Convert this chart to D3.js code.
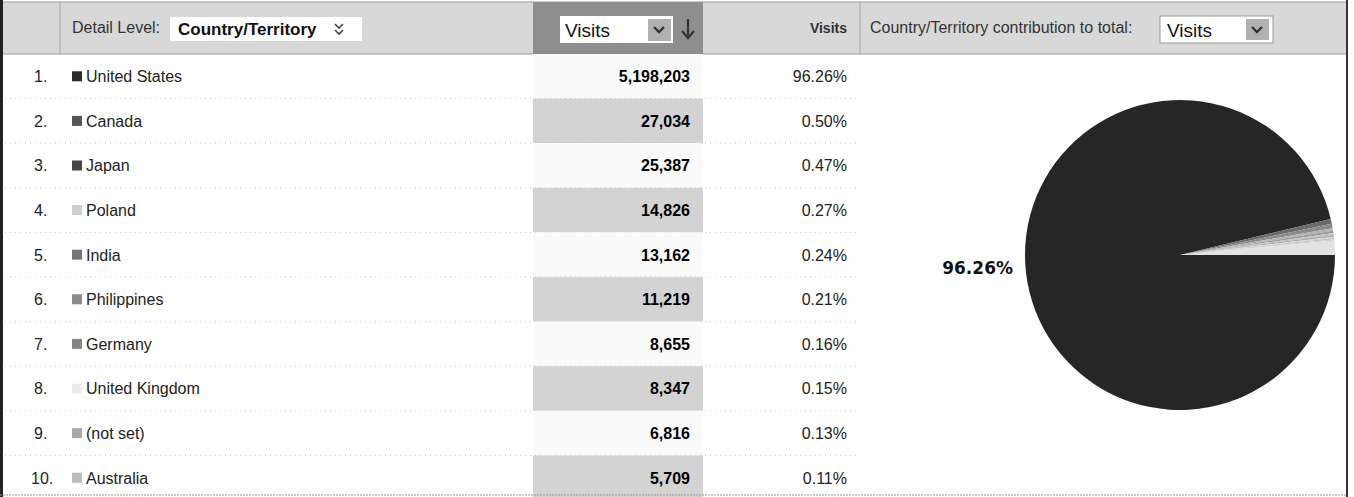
<!DOCTYPE html>
<html>
<head>
<meta charset="utf-8">
<script src="https://cdn.jsdelivr.net/npm/d3@7"></script>
<style>
  body { margin: 0; background: #fff; }
  svg { display: block; font-family: "Liberation Sans", Arial, sans-serif; }
</style>
</head>
<body>
<div id="chart"></div>
<script>
// table data
var countries = ["United States", "Canada", "Japan", "Poland", "India", "Philippines", "Germany", "United Kingdom", "(not set)", "Australia"];
var visits = [5198203, 27034, 25387, 14826, 13162, 11219, 8655, 8347, 6816, 5709];
var shares = [96.26, 0.50, 0.47, 0.27, 0.24, 0.21, 0.16, 0.15, 0.13, 0.11];
// pie also has the remaining countries as one slice
var otherShare = 1.50;
var swatches = ["#2b2b2b", "#555", "#464646", "#cfcfcf", "#767676", "#8c8c8c", "#858585", "#ececec", "#a8a8a8", "#bdbdbd"];

var w = 1354, h = 497;
var headH = 54, rowH = 44.6;
var svg = d3.select("#chart").append("svg").attr("width", w).attr("height", h);

/* header strip */
svg.append("rect").attr("x", 0).attr("y", 2).attr("width", 1347).attr("height", headH - 2)
    .attr("fill", "#d8d8d8").attr("stroke", "#9a9a9a");
svg.append("rect").attr("x", 533).attr("y", 2).attr("width", 170).attr("height", headH - 2)
    .attr("fill", "#8e8e8e");
[60, 860].forEach(function(x) {
    svg.append("line").attr("x1", x).attr("x2", x).attr("y1", 2).attr("y2", headH)
        .attr("stroke", "#a5a5a5");
});

// detail level dropdown
svg.append("text").attr("x", 72).attr("y", 33).attr("font-size", 16).attr("fill", "#333").text("Detail Level:");
svg.append("rect").attr("x", 170).attr("y", 17).attr("width", 192).attr("height", 24).attr("fill", "#fff");
svg.append("text").attr("x", 178).attr("y", 35).attr("font-size", 17).attr("font-weight", "bold").attr("fill", "#111").text("Country/Territory");
svg.append("path").attr("d", "M335,24 l4,4 l4,-4 M335,30 l4,4 l4,-4")
    .attr("fill", "none").attr("stroke", "#444").attr("stroke-width", 1.6);

// sorted metric dropdown
svg.append("rect").attr("x", 560).attr("y", 16).attr("width", 113).attr("height", 27).attr("fill", "#fff");
svg.append("rect").attr("x", 648).attr("y", 19).attr("width", 23).attr("height", 22).attr("fill", "#b0b0b0");
svg.append("path").attr("d", "M654,27 l5,5 l5,-5").attr("fill", "none").attr("stroke", "#333").attr("stroke-width", 2.4);
svg.append("text").attr("x", 565).attr("y", 37).attr("font-size", 19).attr("fill", "#111").text("Visits");
svg.append("path").attr("d", "M688,19 v18 M682,31 l6,7 l6,-7").attr("fill", "none").attr("stroke", "#333").attr("stroke-width", 2.2);

svg.append("text").attr("x", 847).attr("y", 33).attr("text-anchor", "end").attr("font-size", 14)
    .attr("font-weight", "bold").attr("fill", "#333").text("Visits");

// pie metric dropdown
svg.append("text").attr("x", 870).attr("y", 33).attr("font-size", 16).attr("fill", "#333").text("Country/Territory contribution to total:");
svg.append("rect").attr("x", 1160).attr("y", 16).attr("width", 113).attr("height", 27).attr("fill", "#fff").attr("stroke", "#999");
svg.append("rect").attr("x", 1246).attr("y", 19).attr("width", 23).attr("height", 21).attr("fill", "#b0b0b0");
svg.append("path").attr("d", "M1252,27 l5,5 l5,-5").attr("fill", "none").attr("stroke", "#333").attr("stroke-width", 2.4);
svg.append("text").attr("x", 1167).attr("y", 37).attr("font-size", 19).attr("fill", "#111").text("Visits");

/* rows */
var y = d3.scaleBand().domain(countries).range([headH, headH + rowH * countries.length]);
var color = d3.scaleOrdinal().domain(countries).range(swatches);
var fmt = d3.format(",");

var rows = svg.selectAll("g.row")
    .data(countries)
    .enter()
    .append("g")
    .attr("class", "row")
    .attr("transform", function(d) { return "translate(0," + y(d) + ")"; });

// shaded sort column on even rows
rows.append("rect")
    .attr("x", 533).attr("width", 170).attr("height", y.bandwidth())
    .attr("fill", function(d, i) { return i % 2 ? "#d3d3d3" : "#fafafa"; });
rows.append("line")
    .attr("x1", 0).attr("x2", 860).attr("y1", y.bandwidth()).attr("y2", y.bandwidth())
    .attr("stroke", "#c4c4c4").attr("stroke-dasharray", "1,4");

var mid = y.bandwidth() / 2 + 6;
rows.append("text")
    .attr("x", function(d, i) { return i == 9 ? 31 : 34; }).attr("y", mid)
    .attr("font-size", 16).attr("fill", "#222")
    .text(function(d, i) { return (i + 1) + "."; });
rows.append("rect")
    .attr("x", 72).attr("y", y.bandwidth() / 2 - 5).attr("width", 10).attr("height", 10)
    .attr("fill", function(d) { return color(d); });
rows.append("text")
    .attr("x", 86).attr("y", mid).attr("font-size", 16).attr("fill", "#222")
    .text(function(d) { return d; });
rows.append("text")
    .attr("x", 690).attr("y", mid).attr("text-anchor", "end")
    .attr("font-size", 16).attr("font-weight", "bold").attr("fill", "#000")
    .text(function(d, i) { return fmt(visits[i]); });
rows.append("text")
    .attr("x", 847).attr("y", mid).attr("text-anchor", "end")
    .attr("font-size", 16).attr("fill", "#222")
    .text(function(d, i) { return shares[i].toFixed(2) + "%"; });

/* borders */
svg.append("line").attr("x1", 1.5).attr("x2", 1.5).attr("y1", 0).attr("y2", h).attr("stroke", "#222").attr("stroke-width", 3);
svg.append("line").attr("x1", 1347).attr("x2", 1347).attr("y1", 0).attr("y2", h).attr("stroke", "#333").attr("stroke-width", 2);
svg.append("line").attr("x1", 0).attr("x2", 1347).attr("y1", 495).attr("y2", 495).attr("stroke", "#999").attr("stroke-dasharray", "2,1");

/* pie */
var pieData = shares.concat([otherShare]);
var pieColors = ["#262626", "#6a6a6a", "#8a8a8a", "#b4b4b4", "#9a9a9a", "#c2c2c2", "#a8a8a8", "#d6d6d6", "#bdbdbd", "#cfcfcf", "#e2e2e2"];
var pie = d3.pie().sort(null).startAngle(Math.PI / 2).endAngle(Math.PI / 2 + 2 * Math.PI);
var arc = d3.arc().innerRadius(0).outerRadius(155);
var pg = svg.append("g").attr("transform", "translate(1180,255)");
pg.selectAll("path")
    .data(pie(pieData))
    .enter()
    .append("path")
    .attr("d", arc)
    .attr("fill", function(d, i) { return pieColors[i]; });

svg.append("text")
    .attr("x", 1013).attr("y", 274).attr("text-anchor", "end")
    .attr("font-family", "DejaVu Sans, Verdana, sans-serif")
    .attr("font-size", 17).attr("font-weight", "bold").attr("fill", "#111")
    .text(shares[0].toFixed(2) + "%");
</script>
</body>
</html>
